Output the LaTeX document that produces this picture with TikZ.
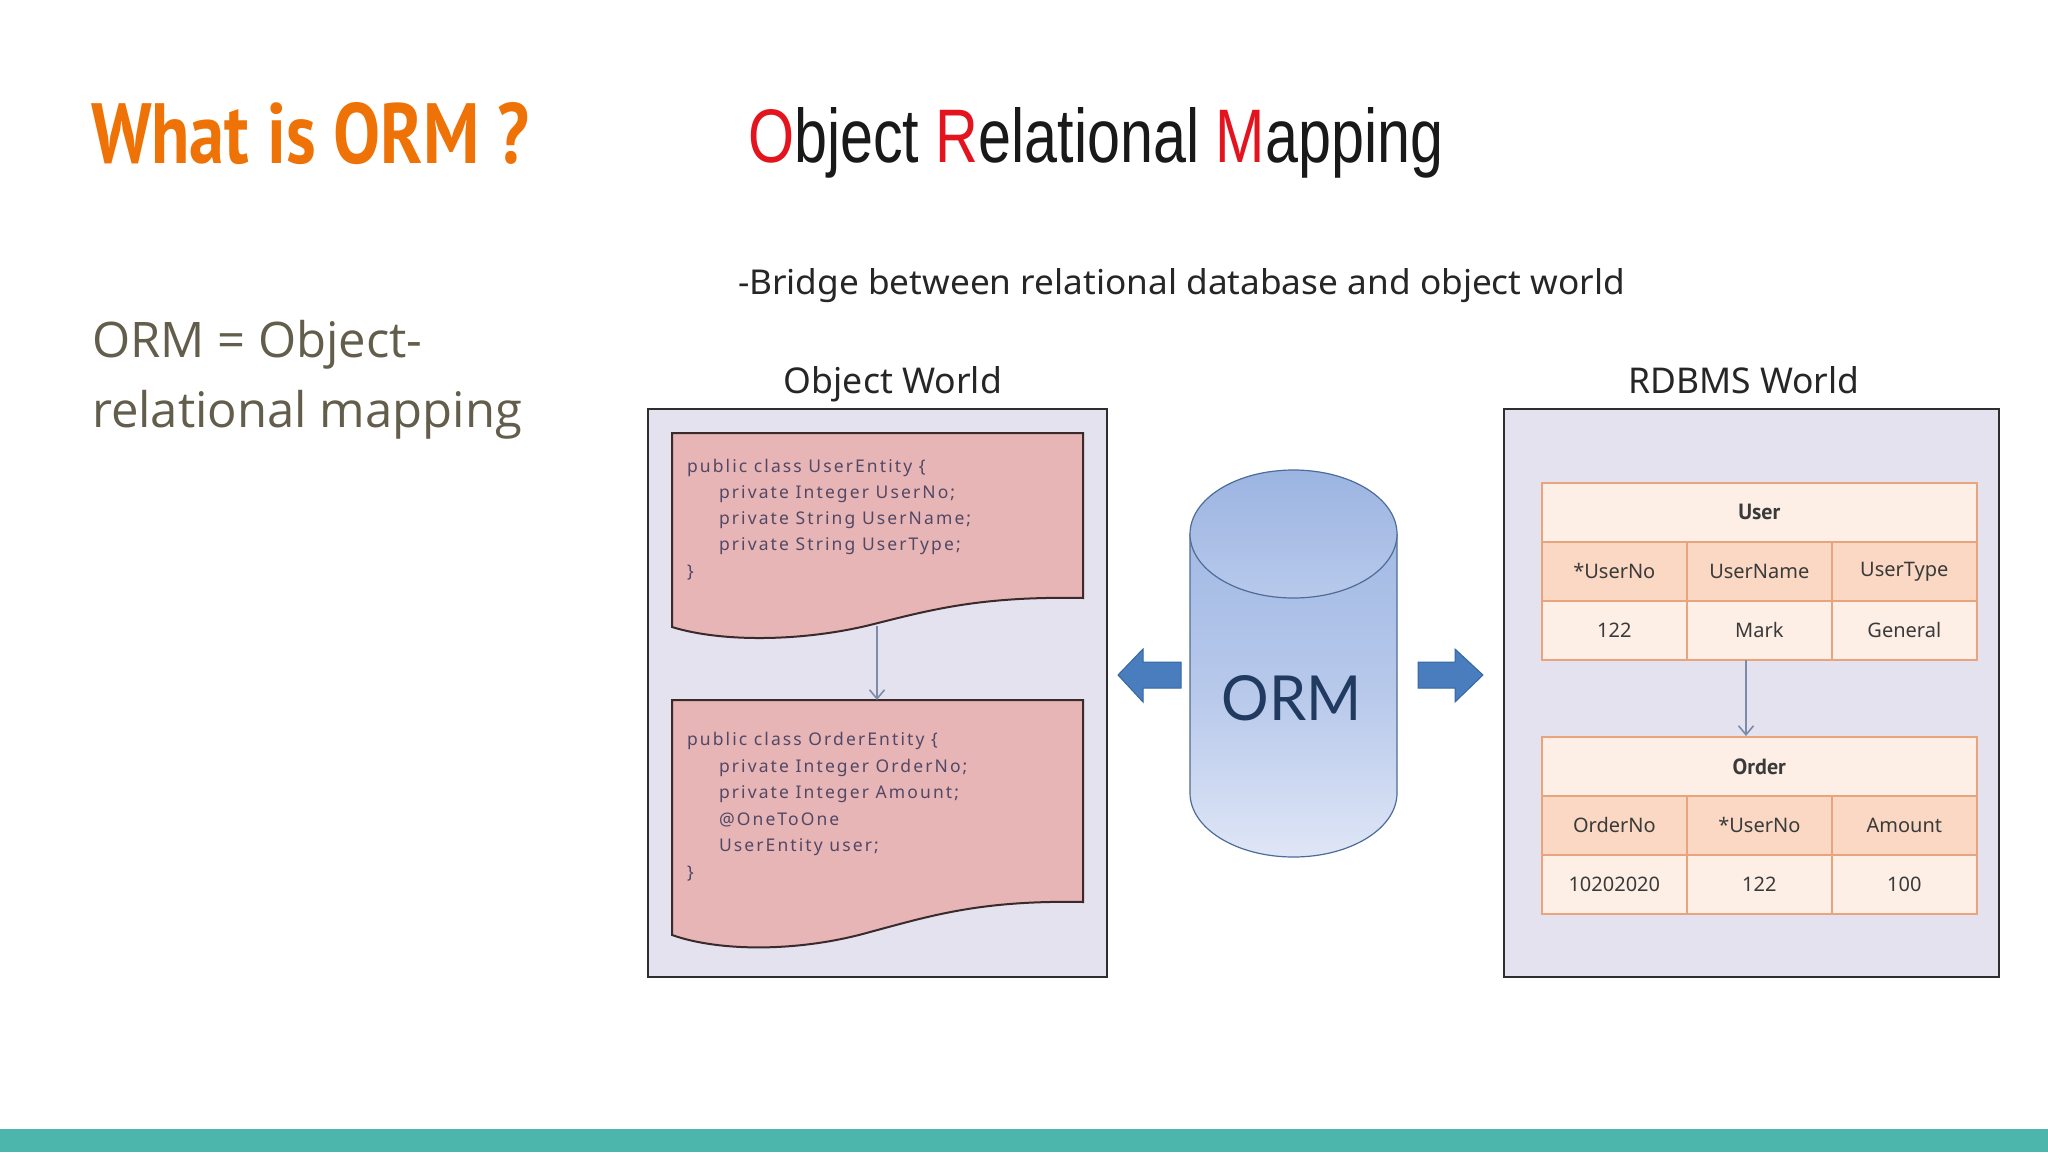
\documentclass[tikz,border=0pt]{standalone}
\usepackage{graphicx}
\usepackage{fontspec}
\setmainfont{Noto Sans}
\newfontfamily\titlefont{PT Sans}
\newfontfamily\subfont{Open Sans}
\newfontfamily\arialfont{Liberation Sans}
\newfontfamily\codefont{Noto Sans}[LetterSpace=12]
\newfontfamily\ormfont{Lato}
\usetikzlibrary{arrows.meta}
\definecolor{titleorange}{HTML}{EE7205}
\definecolor{subgray}{HTML}{625E4B}
\definecolor{ormred}{HTML}{E3141E}
\definecolor{worldbg}{HTML}{E4E2EE}
\definecolor{worldline}{HTML}{2E2E2E}
\definecolor{codefill}{HTML}{E7B5B6}
\definecolor{codeline}{HTML}{3A2A2C}
\definecolor{codetext}{HTML}{514866}
\definecolor{conngray}{HTML}{7C8BAA}
\definecolor{tblborder}{HTML}{E8A47C}
\definecolor{tbllight}{HTML}{FDEFE6}
\definecolor{tblhead}{HTML}{FAD8C4}
\definecolor{tbltext}{HTML}{3A3A3A}
\definecolor{cyltop}{HTML}{A2BAE4}
\definecolor{cyltopdark}{HTML}{9BB4E1}
\definecolor{cylmid}{HTML}{B8C9EB}
\definecolor{cylbot}{HTML}{DFE6F6}
\definecolor{cylline}{HTML}{4E6C98}
\definecolor{ormblue}{HTML}{203A60}
\definecolor{barrow}{HTML}{4A7DBE}
\definecolor{barrowline}{HTML}{35679F}
\definecolor{teal}{HTML}{4DB6AC}
\begin{document}
\begin{tikzpicture}[x=1pt,y=-1pt,
  txt/.style={inner sep=0pt, outer sep=0pt},
  worldbox/.style={fill=worldbg, draw=worldline, line width=2pt},
  codebox/.style={fill=codefill, draw=codeline, line width=2pt},
  codeln/.style={txt, anchor=base west, text=codetext, font=\codefont\fontsize{17.5}{21}\selectfont},
  conn/.style={draw=conngray, line width=1.6pt, -{Straight Barb[length=9pt,width=15pt,line width=1.6pt]}},
  tcell/.style={draw=tblborder, line width=1.6pt, minimum width=145pt, minimum height=59pt, inner sep=0pt, anchor=north west, text=tbltext, font=\fontsize{20}{24}\selectfont},
  ttitle/.style={tcell, minimum width=435pt, fill=tbllight, font=\titlefont\bfseries\fontsize{22}{26}\selectfont},
  thead/.style={tcell, fill=tblhead},
  tdata/.style={tcell, fill=tbllight},
  blockarrow/.style={fill=barrow, draw=barrowline, line width=1pt, line join=miter}
]
\useasboundingbox (0,0) rectangle (2048,1152);
\fill[white] (0,0) rectangle (2048,1152);
\fill[teal] (0,1129) rectangle (2048,1152);

% Left column text
\node[txt, anchor=base west] (title) at (91,163)
  {\resizebox{438pt}{61pt}{\titlefont\bfseries\color{titleorange}What is ORM ?}};
\node[txt, anchor=base west, text=subgray, font=\subfont\fontsize{49}{58}\selectfont] (sub1) at (92,357) {ORM = Object-};
\node[txt, anchor=base west, text=subgray, font=\subfont\fontsize{49}{58}\selectfont] (sub2) at (92,427) {relational mapping};

% Heading of the diagram
\node[txt, anchor=base west] (orm) at (748,162)
  {\resizebox{695pt}{55pt}{\arialfont\textcolor{ormred}{O}\textcolor{black!90}{bject} \textcolor{ormred}{R}\textcolor{black!90}{elational} \textcolor{ormred}{M}\textcolor{black!90}{apping}}};
\node[txt, anchor=base west] (bridge) at (738,294)
  {\resizebox{887pt}{26pt}{\color{black!85}-Bridge between relational database and object world}};
\node[txt, anchor=base] (objworld) at (893,393)
  {\resizebox{218pt}{27pt}{\color{black!85}Object World}};
\node[txt, anchor=base] (rdbworld) at (1744,393)
  {\resizebox{231pt}{27pt}{\color{black!85}RDBMS World}};

% World boxes
\draw[worldbox] (648,409) rectangle (1107,977);
\draw[worldbox] (1504,409) rectangle (1999,977);

% Code documents
\draw[codebox] (672,433) -- (1083,433) -- (1083,598)
  .. controls (980,596) and (930,610) .. (870,625)
  .. controls (800,642) and (720,642) .. (672,627) -- cycle;
\draw[codebox] (672,700) -- (1083,700) -- (1083,902)
  .. controls (980,900) and (930,916) .. (870,932)
  .. controls (800,952) and (720,952) .. (672,935) -- cycle;

\node[codeln] (c1a) at (687,472) {public class UserEntity \{};
\node[codeln] (c1b) at (719,498) {private Integer UserNo;};
\node[codeln] (c1c) at (719,524) {private String UserName;};
\node[codeln] (c1d) at (719,550) {private String UserType;};
\node[codeln] (c1e) at (687,577) {\}};

\node[codeln] (c2a) at (687,745) {public class OrderEntity \{};
\node[codeln] (c2b) at (719,772) {private Integer OrderNo;};
\node[codeln] (c2c) at (719,798) {private Integer Amount;};
\node[codeln] (c2d) at (719,825) {@OneToOne};
\node[codeln] (c2e) at (719,851) {UserEntity user;};
\node[codeln] (c2f) at (687,878) {\}};

\coordinate (uebot) at (877,626);
\coordinate (oetop) at (877,700);
\draw[conn] (uebot) -- (oetop);

% ORM cylinder
\shade[top color=cyltop, bottom color=cylbot, middle color=cylmid]
  (1190,534) -- (1190,793) arc[start angle=180, end angle=0, x radius=103.5, y radius=64] -- (1397,534) -- cycle;
\draw[cylline, line width=1.2pt]
  (1190,534) -- (1190,793) arc[start angle=180, end angle=0, x radius=103.5, y radius=64] -- (1397,534);
\shade[top color=cyltopdark, bottom color=cylmid]
  (1293.5,534) ellipse[x radius=103.5, y radius=64];
\draw[cylline, line width=1.2pt] (1293.5,534) ellipse[x radius=103.5, y radius=64];
\node[txt, anchor=base] (ormtxt) at (1292,720)
  {\resizebox{140pt}{45pt}{\ormfont\color{ormblue}ORM}};

% Block arrows
\draw[blockarrow] (1118,675) -- (1143,649) -- (1143,662) -- (1181,662) -- (1181,688) -- (1143,688) -- (1143,702) -- cycle;
\draw[blockarrow] (1483,675) -- (1455,649) -- (1455,662) -- (1418,662) -- (1418,688) -- (1455,688) -- (1455,702) -- cycle;

% User table
\node[ttitle] (ut) at (1541,482) {User};
\node[thead] (uh1) at (1541,541) {*UserNo};
\node[thead] (uh2) at (1686,541) {UserName};
\node[thead] (uh3) at (1831,541) {UserType};
\node[tdata] (ud1) at (1541,600) {122};
\node[tdata] (ud2) at (1686,600) {Mark};
\node[tdata] (ud3) at (1831,600) {General};

% Order table
\node[ttitle] (ot) at (1541,736) {Order};
\node[thead] (oh1) at (1541,795) {OrderNo};
\node[thead] (oh2) at (1686,795) {*UserNo};
\node[thead] (oh3) at (1831,795) {Amount};
\node[tdata] (od1) at (1541,854) {10202020};
\node[tdata] (od2) at (1686,854) {122};
\node[tdata] (od3) at (1831,854) {100};

\coordinate (utbot) at (1746,660);
\coordinate (ottop) at (1746,736);
\draw[conn] (utbot) -- (ottop);
\end{tikzpicture}
\end{document}
